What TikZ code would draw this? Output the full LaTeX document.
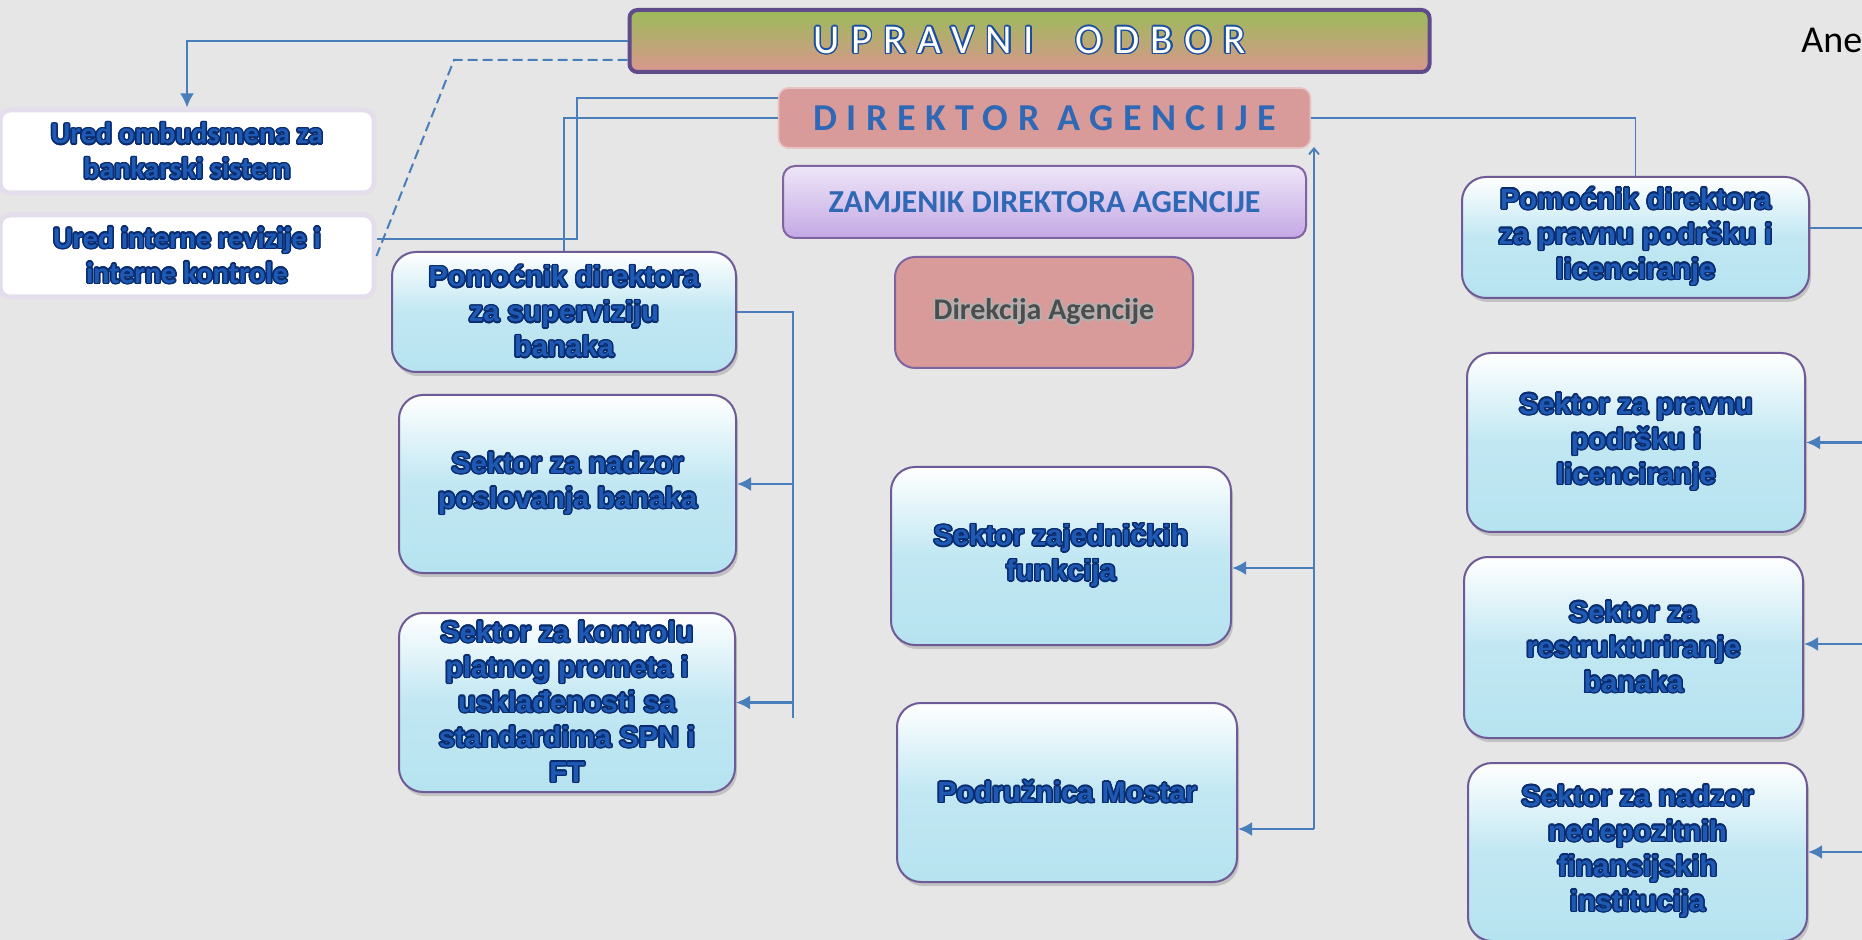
\documentclass[tikz,border=0pt]{standalone}
\usepackage{fontspec}
\setmainfont{Liberation Sans}
\newfontfamily\calfont{Carlito}
\newfontfamily\uofont[LetterSpace=28]{Carlito}
\newfontfamily\dafont[LetterSpace=25]{Carlito}
\usepackage[copies]{contour}
\contourlength{0.75pt}
\usepackage{tikz}
\usetikzlibrary{arrows.meta,shadows}

\definecolor{paper}{HTML}{E6E6E6}
\definecolor{linkblue}{HTML}{4A7EBB}
\definecolor{textblue}{HTML}{1E5AB4}
\definecolor{navyedge}{HTML}{0A2C6E}
\definecolor{unitblue}{HTML}{B6E3F0}
\definecolor{unitedge}{HTML}{6E5A96}
\definecolor{officeedge}{HTML}{E4DEEC}
\definecolor{uoedge}{HTML}{5F4B8B}
\definecolor{uogreen}{HTML}{9BBB59}
\definecolor{uosalmon}{HTML}{D9968F}
\definecolor{uotext}{HTML}{1A4E9E}
\definecolor{dasalmon}{HTML}{D99A9A}
\definecolor{daedge}{HTML}{E8C4C4}
\definecolor{dablue}{HTML}{2F68B4}
\definecolor{zdtop}{HTML}{EEE6F8}
\definecolor{zdbottom}{HTML}{C4A8E4}
\definecolor{zdedge}{HTML}{8064A2}
\definecolor{dirgray}{HTML}{4D4D4D}

\newcommand{\bt}[1]{\contour{navyedge}{#1}}

\begin{document}
\begin{tikzpicture}[x=0.5pt,y=-0.5pt]
	\tikzstyle{unit}=[draw=unitedge,line width=1pt,rounded corners=12pt,top color=white,bottom color=unitblue,middle color=unitblue!85!white,text=textblue,align=center,font=\bfseries\fontsize{14.5}{17.5}\selectfont,drop shadow={shadow xshift=1pt,shadow yshift=-2pt,opacity=0.35}]
	\tikzstyle{office}=[draw=officeedge,line width=2.5pt,fill=white,rounded corners=5pt,text=textblue,align=center,font=\calfont\bfseries\fontsize{15}{17.5}\selectfont,minimum width=187pt]
	\tikzstyle{conn}=[draw=linkblue,line width=0.9pt]
	\tikzstyle{arr}=[conn,line width=1.3pt,-{Latex[length=7pt,width=7pt]}]

	\useasboundingbox (0,0) rectangle (1862,940);
	\clip (0,0) rectangle (1862,940);
	\fill[paper] (0,0) rectangle (1862,940);

	% top of the agency
	\node[draw=uoedge,line width=2pt,rounded corners=4pt,top color=uogreen,bottom color=uosalmon,minimum width=400pt,minimum height=31pt,text=white] (uo) at (1029.5,41) {\uofont\fontsize{20.5}{24}\selectfont\contour{uotext}{UPRAVNI\ \ ODBOR}};
	\node[draw=daedge,line width=0.8pt,rounded corners=5pt,fill=dasalmon,minimum width=266pt,minimum height=30pt,text=dablue] (da) at (1044.5,118) {\dafont\bfseries\fontsize{19}{22}\selectfont DIREKTOR\ AGENCIJE};
	\node[draw=zdedge,line width=1pt,rounded corners=6pt,top color=zdtop,bottom color=zdbottom,minimum width=261.5pt,minimum height=36pt,text=dablue] (zd) at (1044.5,202) {\calfont\bfseries\fontsize{16}{19}\selectfont ZAMJENIK DIREKTORA AGENCIJE};
	\node[draw=zdedge,line width=1pt,rounded corners=10pt,fill=dasalmon,minimum width=149pt,minimum height=55.5pt,text=dirgray] (dira) at (1044,312.5) {\calfont\bfseries\fontsize{15}{18}\selectfont\contour{gray!60}{Direkcija Agencije}};
	\node[anchor=west,inner sep=0pt,font=\calfont\fontsize{19}{22}\selectfont] (ane) at (1801,40) {Ane};

	% offices
	\node[office,minimum height=41.5pt] (omb) at (187,151.5) {\bt{Ured ombudsmena za}\\\bt{bankarski sistem}};
	\node[office,minimum height=41pt] (irev) at (187,256) {\bt{Ured interne revizije i}\\\bt{interne kontrole}};

	% left column
	\node[unit,minimum width=172pt,minimum height=60pt] (pss) at (564,312) {\bt{Pomoćnik direktora}\\\bt{za superviziju}\\\bt{banaka}};
	\node[unit,minimum width=168.5pt,minimum height=89pt] (snp) at (567.5,484) {\bt{Sektor za nadzor}\\\bt{poslovanja banaka}};
	\node[unit,minimum width=168pt,minimum height=89.5pt] (skp) at (567,702.5) {\bt{Sektor za kontrolu}\\\bt{platnog prometa i}\\\bt{usklađenosti sa}\\\bt{standardima SPN i}\\\bt{FT}};

	% middle column
	\node[unit,minimum width=170pt,minimum height=89pt] (szf) at (1061,556) {\bt{Sektor zajedničkih}\\\bt{funkcija}};
	\node[unit,minimum width=170pt,minimum height=89.5pt] (pm) at (1067,792.5) {\bt{Podružnica Mostar}};

	% right column
	\node[unit,minimum width=173.5pt,minimum height=60.5pt] (ppl) at (1635.5,237.5) {\bt{Pomoćnik direktora}\\\bt{za pravnu podršku i}\\\bt{licenciranje}};
	\node[unit,minimum width=169pt,minimum height=89.5pt] (spp) at (1636,442.5) {\bt{Sektor za pravnu}\\\bt{podršku i}\\\bt{licenciranje}};
	\node[unit,minimum width=169.5pt,minimum height=90.5pt] (srb) at (1633.5,647.5) {\bt{Sektor za}\\\bt{restrukturiranje}\\\bt{banaka}};
	\node[unit,minimum width=169.5pt,minimum height=89pt] (snn) at (1637.5,852) {\bt{Sektor za nadzor}\\\bt{nedepozitnih}\\\bt{finansijskih}\\\bt{institucija}};

	\coordinate (lbot) at (793,718);
	\coordinate (ctop) at (1314,147);
	\coordinate (cbot) at (1314,829);
	\coordinate (rtrunk) at (1900,0);

	% connectors
	\draw[arr] (uo.west) -| (omb.north);
	\draw[conn,dashed,dash pattern=on 5pt off 2.5pt,line width=1pt] ([yshift=-9.5pt]uo.west) -- (454,60) -- (irev.east);
	\draw[conn] ([yshift=8.5pt]irev.east) -- (577,239) |- ([yshift=10pt]da.west);
	\draw[conn] (pss.north) |- (da.west);
	\draw[conn] (da.east) -| (ppl.north);

	\draw[conn] (pss.east) -| (lbot);
	\draw[arr] (lbot |- snp.east) -- (snp.east);
	\draw[arr] (lbot |- skp.east) -- (skp.east);

	\draw[conn,{Straight Barb[length=3pt,width=5pt]}-] (ctop) -- (cbot);
	\draw[arr] (ctop |- 0,568) -- (szf.east |- 0,568);
	\draw[arr] (cbot) -- (pm.east |- cbot);

	\draw[conn] ([yshift=4.75pt]ppl.east) -- (rtrunk |- 0,228);
	\draw[arr] (rtrunk |- spp.east) -- (spp.east);
	\draw[arr] (rtrunk |- 0,644) -- (srb.east |- 0,644);
	\draw[arr] (rtrunk |- snn.east) -- (snn.east);
\end{tikzpicture}
\end{document}
